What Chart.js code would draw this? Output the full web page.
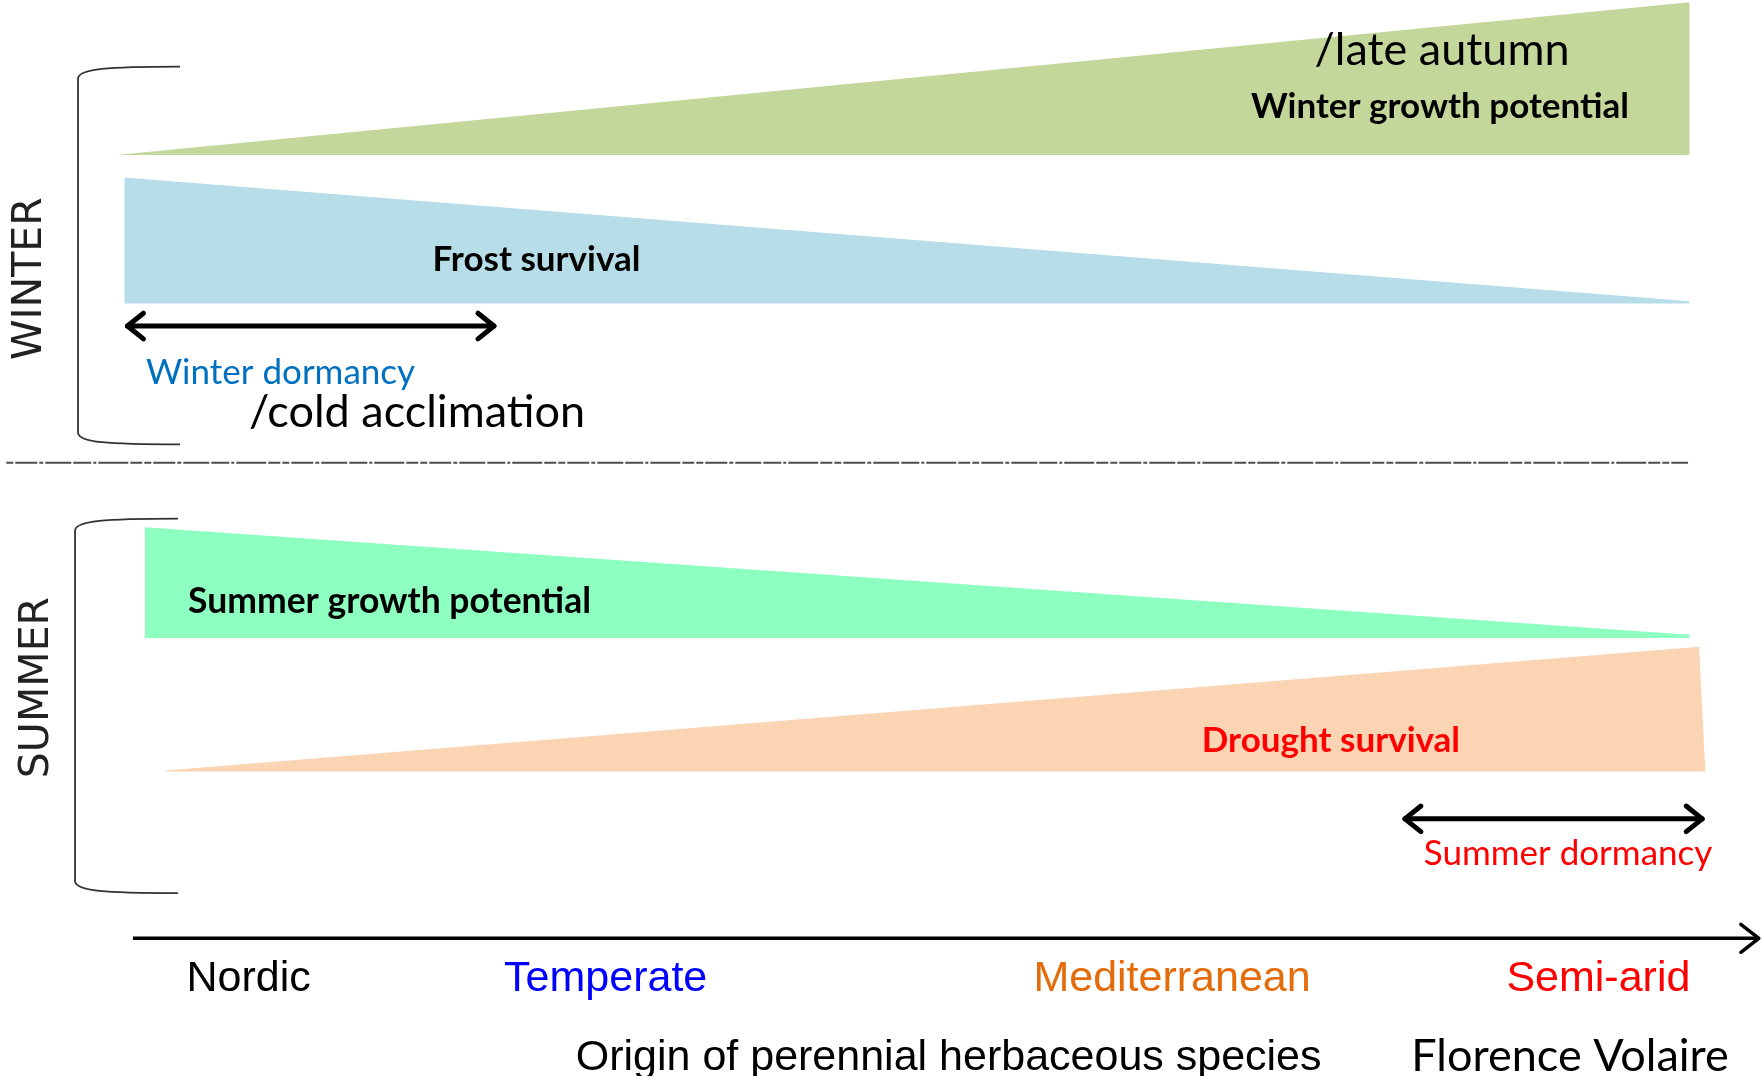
<!DOCTYPE html>
<html>
<head>
<meta charset="utf-8">
<script src="https://cdn.jsdelivr.net/npm/chart.js@4.4.1/dist/chart.umd.min.js"></script>
<style>
  html, body { margin: 0; padding: 0; background: #fff; }
  canvas { display: block; }
</style>
</head>
<body>
<canvas id="chart" width="1762" height="1076"></canvas>
<script>
// x = place along the origin gradient (0 = Nordic end, 100 = semi-arid end)
// y = height in the figure (0 = bottom, 100 = top)

// winter panel
const winterGrowthX = [0, 100];
const winterGrowthY = [85.6, 99.8];
const winterGrowthBase = 85.6;

const frostX = [0.5, 100];
const frostY = [83.5, 72.0];
const frostBase = 71.8;

const winterDormancySpan = [0.7, 24.0];
const winterDormancyY = 69.7;

// summer panel
const summerGrowthX = [1.8, 100];
const summerGrowthY = [51.0, 41.0];
const summerGrowthBase = 40.7;

const droughtX = [3.1, 100.6, 101.0];
const droughtY = [28.4, 39.9, 28.3];
const droughtBase = 28.3;

const summerDormancySpan = [81.9, 100.8];
const summerDormancyY = 23.9;

// separators, brackets, gradient axis
const separatorSpan = [-7.0, 99.9];
const separatorY = 57.0;

const bracketX = [-2.44, -2.63];
const bracketArm = [4.04, 3.91];
const bracketTop = [93.8, 51.8];
const bracketBottom = [58.7, 17.0];

const axisSpan = [1.05, 104.4];
const axisY = 12.8;

// region names under the axis
const regionNames = ['Nordic', 'Temperate', 'Mediterranean', 'Semi-arid'];
const regionX = [8.4, 31.1, 67.1, 94.2];
const regionY = 9.0;

const toPoints = (xs, ys) => xs.map((v, i) => ({x: v, y: ys[i]}));

const notes = [
  {text: 'WINTER', x: -5.5, y: 74.1, font: '41px "DejaVu Sans"', color: '#222', rotate: true},
  {text: 'SUMMER', x: -5.0, y: 36.1, font: '41px "DejaVu Sans"', color: '#222', rotate: true},
  {text: '/late autumn', x: 84.26, y: 95.3, font: '45px Lato', color: '#000'},
  {text: 'Winter growth potential', x: 84.13, y: 90.05, font: 'bold 35px Lato', color: '#000'},
  {text: 'Frost survival', x: 26.7, y: 75.9, font: 'bold 35px Lato', color: '#000'},
  {text: 'Winter dormancy', x: 1.88, y: 65.4, font: '35px Lato', color: '#0070c0', align: 'left'},
  {text: '/cold acclimation', x: 8.43, y: 61.7, font: '45px Lato', color: '#000', align: 'left'},
  {text: 'Summer growth potential', x: 4.55, y: 44.05, font: 'bold 35.5px Lato', color: '#000', align: 'left'},
  {text: 'Drought survival', x: 77.2, y: 31.2, font: 'bold 35px Lato', color: '#ff0000'},
  {text: 'Summer dormancy', x: 83.1, y: 20.7, font: '35px Lato', color: '#ff0000', align: 'left'},
  {text: 'Origin of perennial herbaceous species', x: 52.9, y: 1.7, font: '43px "Liberation Sans"', color: '#000'},
  {text: 'Florence Volaire', x: 92.4, y: 1.8, font: '45px Lato', color: '#000'}
];
const regionColors = ['#000000', '#0000ff', '#e46c0a', '#ff0000'];
regionNames.forEach((name, i) => {
  notes.push({text: name, x: regionX[i], y: regionY, font: '43px "Liberation Sans"', color: regionColors[i]});
});

const wedge = (xs, ys, base, color) => ({
  data: toPoints(xs, ys),
  fill: {value: base},
  backgroundColor: color,
  borderColor: 'rgba(0,0,0,0)',
  borderWidth: 0,
  pointRadius: 0,
  tension: 0,
  clip: false
});

const drawArrow = (ctx, x0, x1, y, w, head, both) => {
  ctx.lineWidth = w;
  ctx.beginPath();
  ctx.moveTo(x0, y);
  ctx.lineTo(x1, y);
  ctx.stroke();
  ctx.beginPath();
  ctx.moveTo(x1 - head, y - head * 0.8);
  ctx.lineTo(x1, y);
  ctx.lineTo(x1 - head, y + head * 0.8);
  if (both) {
    ctx.moveTo(x0 + head, y - head * 0.8);
    ctx.lineTo(x0, y);
    ctx.lineTo(x0 + head, y + head * 0.8);
  }
  ctx.stroke();
};

const decor = {
  id: 'decor',
  afterDatasetsDraw(chart) {
    const {ctx, scales: {x, y}} = chart;
    const px = v => x.getPixelForValue(v);
    const py = v => y.getPixelForValue(v);
    ctx.save();

    // dashed separator between winter and summer
    ctx.strokeStyle = '#4d4d4d';
    ctx.lineWidth = 2;
    ctx.setLineDash([7, 2, 22, 2, 4, 2, 26, 2, 18, 2, 3, 2, 30, 2, 12, 2]);
    ctx.beginPath();
    ctx.moveTo(px(separatorSpan[0]), py(separatorY));
    ctx.lineTo(px(separatorSpan[1]), py(separatorY));
    ctx.stroke();
    ctx.setLineDash([]);

    // brackets
    ctx.strokeStyle = '#333';
    ctx.lineWidth = 1.8;
    bracketX.forEach((bx, i) => {
      const l = px(bx), r = px(bracketArm[i]);
      const t = py(bracketTop[i]), b = py(bracketBottom[i]);
      ctx.beginPath();
      ctx.moveTo(r, t);
      ctx.bezierCurveTo(l + 30, t, l, t + 2, l, t + 12);
      ctx.lineTo(l, b - 12);
      ctx.bezierCurveTo(l, b - 2, l + 30, b, r, b);
      ctx.stroke();
    });

    // arrows
    ctx.strokeStyle = '#000';
    ctx.lineCap = 'round';
    ctx.lineJoin = 'round';
    drawArrow(ctx, px(winterDormancySpan[0]), px(winterDormancySpan[1]), py(winterDormancyY), 5, 16, true);
    drawArrow(ctx, px(summerDormancySpan[0]), px(summerDormancySpan[1]), py(summerDormancyY), 5, 16, true);
    ctx.lineCap = 'butt';
    ctx.lineWidth = 3.5;
    ctx.beginPath();
    ctx.moveTo(px(axisSpan[0]), py(axisY));
    ctx.lineTo(px(axisSpan[1]), py(axisY));
    ctx.stroke();
    ctx.lineCap = 'round';
    ctx.beginPath();
    ctx.moveTo(px(axisSpan[1]) - 18, py(axisY) - 14);
    ctx.lineTo(px(axisSpan[1]), py(axisY));
    ctx.lineTo(px(axisSpan[1]) - 18, py(axisY) + 14);
    ctx.stroke();

    // texts
    ctx.textBaseline = 'middle';
    notes.forEach(n => {
      ctx.save();
      ctx.font = n.font;
      ctx.fillStyle = n.color;
      ctx.textAlign = n.align || 'center';
      ctx.translate(px(n.x), py(n.y));
      if (n.rotate) ctx.rotate(-Math.PI / 2);
      ctx.fillText(n.text, 0, 0);
      ctx.restore();
    });
    ctx.restore();
  }
};

const build = () => new Chart(document.getElementById('chart'), {
  type: 'line',
  data: {
    datasets: [
      wedge(winterGrowthX, winterGrowthY, winterGrowthBase, '#c4d79b'),
      wedge(frostX, frostY, frostBase, '#b7dee8'),
      wedge(summerGrowthX, summerGrowthY, summerGrowthBase, '#8dffc0'),
      wedge(droughtX, droughtY, droughtBase, '#fbd4b4')
    ]
  },
  options: {
    responsive: false,
    animation: false,
    layout: {padding: 0},
    plugins: {legend: {display: false}, tooltip: {enabled: false}},
    scales: {
      x: {type: 'linear', min: -7.4, max: 104.6, display: false},
      y: {type: 'linear', min: 0, max: 100, display: false}
    }
  },
  plugins: [decor]
});

Promise.all([
  document.fonts.load('45px Lato'),
  document.fonts.load('bold 35px Lato'),
  document.fonts.load('43px "Liberation Sans"'),
  document.fonts.load('41px "DejaVu Sans"')
]).then(build, build);
</script>
</body>
</html>
